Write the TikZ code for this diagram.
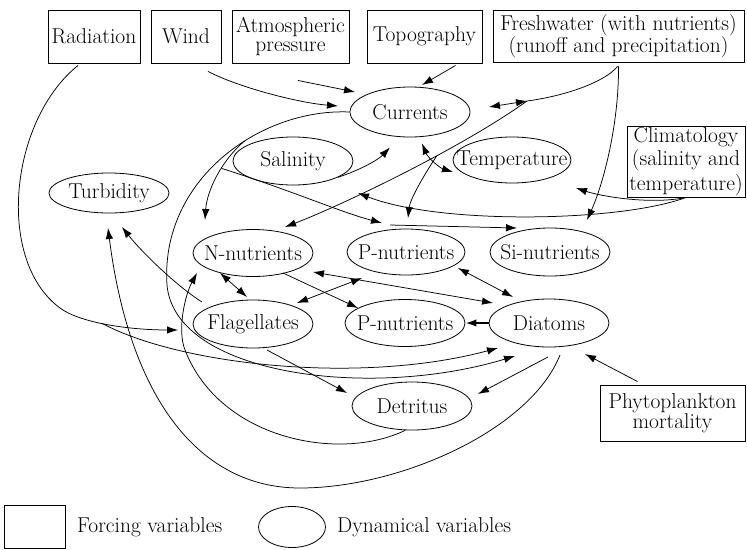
\documentclass[tikz,border=0pt]{standalone}
\usepackage{xcolor}
\usetikzlibrary{arrows.meta}
\usetikzlibrary{shapes.geometric}
\usetikzlibrary{calc}
\newcommand{\vartext}[1]{\makebox[0pt]{#1}}

\begin{document}
\begin{tikzpicture}[x=1pt,y=1pt,
 forcing/.style={draw, line width=0.9pt, align=center, inner sep=0pt, font=\fontsize{21.5}{19.5}\selectfont},
 dynvar/.style={ellipse, draw, line width=0.8pt, inner sep=0pt, minimum width=120pt, minimum height=48pt, font=\fontsize{21.5}{19.5}\selectfont},
 arr/.style={line width=0.75pt, -{Latex[length=11pt,width=7.5pt]}},
 darr/.style={line width=0.75pt, {Latex[length=11pt,width=7.5pt]}-{Latex[length=11pt,width=7.5pt]}}]

\useasboundingbox (0,0) rectangle (747,-549);

%forcing variables
\node[forcing, minimum width=92pt, minimum height=53pt] (rad) at (94,-36.5) {Radiation};
\node[forcing, minimum width=70pt, minimum height=53pt] (wind) at (186,-36.5) {Wind};
\node[forcing, minimum width=117pt, minimum height=53pt] (atm) at (290.5,-36.5) {Atmospheric\\pressure};
\node[forcing, minimum width=115pt, minimum height=53pt] (topo) at (424.5,-36.5) {Topography};
\node[forcing, minimum width=251pt, minimum height=52pt] (fw) at (618.5,-36) {Freshwater (with nutrients)\\(runoff and precipitation)};
\node[forcing, minimum width=118pt, minimum height=71pt] (clim) at (686,-161.5) {Climatology\\[2pt](salinity and\\[2pt]temperature)};
\node[forcing, minimum width=145pt, minimum height=56pt] (phy) at (672.5,-413) {Phytoplankton\\mortality};

%dynamical variables
\node[dynvar, minimum height=50pt] (cur) at (410,-112) {\vartext{Currents}};
\node[dynvar] (sal) at (293,-161) {\vartext{Salinity}};
\node[dynvar, minimum width=118pt, minimum height=46pt] (temp) at (512,-160) {\vartext{Temperature}};
\node[dynvar, minimum height=40pt] (turb) at (109,-193) {\vartext{Turbidity}};
\node[dynvar, minimum height=47pt] (nn) at (253,-253) {\vartext{N-nutrients}};
\node[dynvar, minimum width=118pt, minimum height=46pt] (pn) at (406,-252) {\vartext{P-nutrients}};
\node[dynvar] (si) at (550,-252) {\vartext{Si-nutrients}};
\node[dynvar] (fl) at (253,-324) {\vartext{Flagellates}};
\node[dynvar, minimum height=47pt] (pnl) at (405,-323) {\vartext{P-nutrients}};
\node[dynvar] (dia) at (549,-323) {\vartext{Diatoms}};
\node[dynvar] (det) at (412,-406) {\vartext{Detritus}};

%top forcing
\draw[arr] ($(wind.south)+(22,-8)$) .. controls (240,-88) and (300,-103) .. ($(cur)+(-72,6)$);
\draw[arr] ($(atm.south)+(7.5,-17)$) -- ($(cur)+(-55,20)$);
\draw[arr] ($(topo.south)+(31,-2)$) -- ($(cur)+(12,27)$);

%freshwater
\coordinate (J) at (527,-101);
\draw[line width=0.75pt] ($(fw.south)+(-1,-4)$) .. controls (605,-82) and (565,-96) .. (J);
\draw[darr] ($(cur)+(79,5)$) -- (J);
\draw[arr] (J) .. controls (460,-149) and (340,-206) .. ($(nn)+(32,26)$) coordinate[pos=0.37] (jp);
\draw[arr] (jp) .. controls (422,-178) and (410,-200) .. ($(pn)+(2,34)$);
\draw[arr] ($(fw.south)+(0,-4)$) .. controls (619,-120) and (605,-180) .. ($(si)+(37,32)$);

%climatology
\draw[arr] (clim.south) .. controls (650,-205) and (600,-196) .. ($(temp)+(64,-28)$);
\draw[arr] (clim.south) .. controls (620,-222) and (440,-225) .. ($(sal)+(65,-32)$);

%currents
\draw[darr] ($(cur.south)+(12,-6)$) .. controls (428,-158) and (440,-168) .. ($(temp)+(-59,-12)$);
\draw[arr] (sal.-20) .. controls (360,-170) and (378,-160) .. ($(cur.south)+(-20,-10)$);
\coordinate (sw) at (167,-285);
\draw[arr] (cur.west) .. controls (260,-108) and (160,-180) .. (sw) coordinate[pos=0.4] (cw)
  .. controls (175,-375) and (370,-400) .. ($(dia)+(-34,-33)$);
\draw[arr] (cw) .. controls (222,-160) and (207,-190) .. ($(nn)+(-48,33)$) coordinate[pos=0.4] (cb);
\draw[arr] (cb) .. controls (290,-190) and (340,-212) .. ($(pn)+(-24,29)$);
\draw[arr] ($(pn)+(-16,27)$) -- ($(si)+(-33,24)$);

%radiation
\coordinate (rb) at (60,-308);
\draw[arr] ($(rad.south)+(-16,-2)$) .. controls (10,-120) and (-5,-260) .. (rb)
  .. controls (80,-323) and (130,-330) .. ($(fl)+(-75,-6)$) coordinate[pos=0.45] (rj);
\draw[arr] (rj) .. controls (180,-365) and (360,-385) .. ($(dia)+(-51,-25)$);

%turbidity
\draw[arr] ($(fl)+(-51,22)$) .. controls (175,-285) and (140,-250) .. ($(turb)+(13,-34)$);
\coordinate (lb) at (300,-488);
\draw[arr] ($(dia)+(11,-32)$) .. controls (530,-430) and (400,-488) .. (lb)
  .. controls (200,-488) and (130,-400) .. ($(turb)+(-1,-35)$);

%detritus
\coordinate (db) at (185,-350);
\draw[arr] ($(det.south)+(-7,0)$) .. controls (340,-462) and (220,-440) .. (db)
  .. controls (177,-330) and (185,-295) .. ($(nn)+(-56,-20)$);

%nutrients and plankton
\draw[darr] ($(nn)+(-33,-20)$) -- ($(fl)+(-6,27)$);
\draw[arr] ($(nn)+(30,-20)$) -- ($(pnl)+(-47,15)$);
\draw[darr] ($(pn)+(-44,-26)$) -- ($(fl)+(44,21)$);
\draw[darr] ($(nn)+(60,-19)$) -- ($(dia)+(-56,20)$);
\draw[darr] ($(pn)+(52,-16)$) -- ($(dia)+(-36,26)$);
\draw[arr, line width=1.8pt] (dia.west) -- (pnl.east);
\draw[arr] ($(fl)+(14,-26)$) -- ($(det)+(-65,13)$);
\draw[arr] ($(dia)+(-1,-34)$) -- ($(det)+(66,12)$);
\draw[arr] ($(phy.north)+(-35,3)$) -- ($(dia)+(36,-31)$);

%legend
\node[forcing, minimum width=61pt, minimum height=43pt] (legbox) at (34.5,-527) {};
\node[anchor=west, inner sep=0pt, font=\fontsize{21.5}{19.5}\selectfont] (legforce) at (77,-527) {Forcing variables};
\node[dynvar, minimum width=67pt, minimum height=41pt] (legell) at (292,-527) {};
\node[anchor=west, inner sep=0pt, font=\fontsize{21.5}{19.5}\selectfont] (legdyn) at (337,-527) {Dynamical variables};

\end{tikzpicture}
\end{document}
